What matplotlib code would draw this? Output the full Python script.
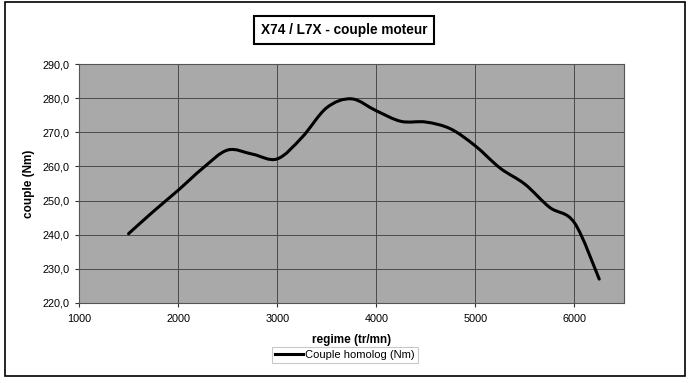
import matplotlib
matplotlib.use('Agg')
import matplotlib.pyplot as plt
from matplotlib.path import Path
from matplotlib.patches import PathPatch, Rectangle
from matplotlib.lines import Line2D

plt.rcParams['font.family'] = ['Liberation Sans', 'DejaVu Sans']

# donnees
regime = [1500, 1750, 2000, 2250, 2500, 2750, 3000, 3250, 3500, 3750,
          4000, 4250, 4500, 4750, 5000, 5250, 5500, 5750, 6000, 6250]
couple = [240.3, 246.8, 253.0, 259.5, 264.8, 263.6, 262.2, 268.5, 277.2, 279.8,
          276.3, 273.2, 273.0, 271.0, 266.0, 259.5, 254.8, 248.0, 243.5, 227.0]
yticks = [220, 230, 240, 250, 260, 270, 280, 290]
xticks = [1000, 2000, 3000, 4000, 5000, 6000]

fig = plt.figure(figsize=(6.88, 3.83), dpi=100)

# cadre du graphique
fig.patches.append(Rectangle((5 / 688, 1 - 376 / 383), 680 / 688, 374 / 383,
                             transform=fig.transFigure, fill=False,
                             edgecolor='black', linewidth=1.2))

ax = fig.add_axes([79 / 688, 1 - 303 / 383, 545 / 688, 239 / 383])
ax.set_facecolor('#a9a9a9')
ax.set_xlim(1000, 6500)
ax.set_ylim(220, 290)
ax.set_xticks(xticks)
ax.set_yticks(yticks)
ax.set_yticklabels([('%.1f' % v).replace('.', ',') for v in yticks])
ax.tick_params(labelsize=7.8, length=3, width=0.8, color='#333333')
ax.tick_params(axis='x', pad=5)
ax.grid(True, color='#4a4a4a', linewidth=0.7)
ax.set_axisbelow(True)
for s in ax.spines.values():
    s.set_color('#555555')
    s.set_linewidth(0.8)

# courbe lissee (bezier type Excel)
pts = list(zip(regime, couple))
verts = [pts[0]]
codes = [Path.MOVETO]
n = len(pts)
for i in range(n - 1):
    p0 = pts[i - 1] if i > 0 else pts[i]
    p1 = pts[i]
    p2 = pts[i + 1]
    p3 = pts[i + 2] if i + 2 < n else pts[i + 1]
    c1 = (p1[0] + (p2[0] - p0[0]) / 6, p1[1] + (p2[1] - p0[1]) / 6)
    c2 = (p2[0] - (p3[0] - p1[0]) / 6, p2[1] - (p3[1] - p1[1]) / 6)
    verts += [c1, c2, p2]
    codes += [Path.CURVE4] * 3
ax.add_patch(PathPatch(Path(verts, codes), fill=False, edgecolor='black',
                       linewidth=2.2, capstyle='round', joinstyle='round'))

ax.set_xlabel('regime (tr/mn)', fontsize=8.5, fontweight='bold', labelpad=7)
ax.set_ylabel('couple (Nm)', fontsize=8.5, fontweight='bold', labelpad=6)

fig.text(344 / 688, 1 - 30 / 383, 'X74 / L7X - couple moteur', ha='center',
         va='center', fontsize=9.8, fontweight='bold',
         bbox=dict(boxstyle='square,pad=0.5', facecolor='white',
                   edgecolor='black', linewidth=1.5))

handle = Line2D([], [], color='black', linewidth=2.2)
leg = fig.legend([handle], ['Couple homolog (Nm)'], loc='center',
                 bbox_to_anchor=(345 / 688, 1 - 355 / 383), fontsize=8,
                 frameon=True, fancybox=False, handlelength=2.5,
                 handletextpad=0.2, borderpad=0.3)
leg.get_frame().set_edgecolor('#bbbbbb')
leg.get_frame().set_linewidth(0.8)

fig.savefig('out.png', dpi=100)
